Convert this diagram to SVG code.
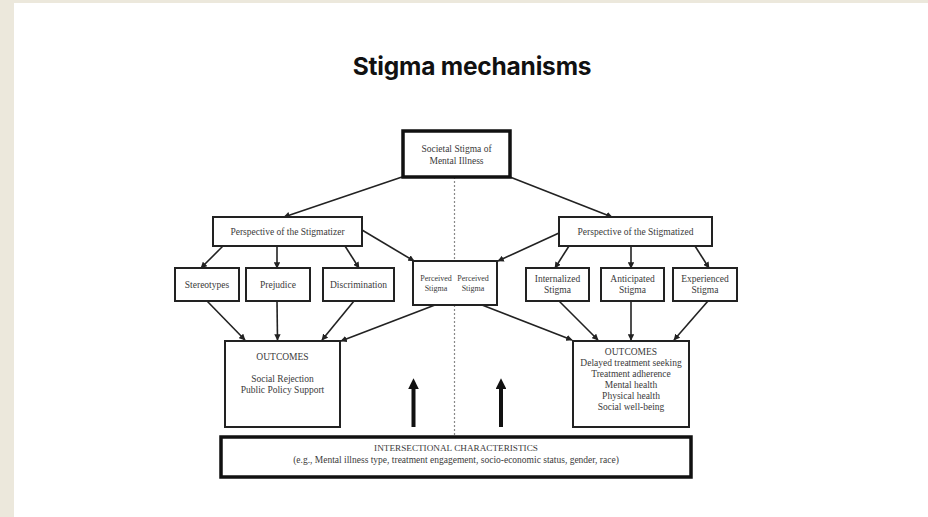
<svg xmlns="http://www.w3.org/2000/svg" width="928" height="517" viewBox="0 0 928 517">
<defs>
<style>
.bg{fill:#ffffff}
.strip{fill:#ece8dc}
.title{font-family:Inter,"Liberation Sans",sans-serif;font-weight:700;font-size:24.5px;letter-spacing:-0.2px;fill:#111;text-anchor:middle}
.box{fill:#fff;stroke:#222;stroke-width:2}
.thick{fill:#fff;stroke:#111;stroke-width:3.5}
.t{font-family:"Liberation Serif","Times New Roman",serif;font-size:9.5px;fill:#3a3a3a;text-anchor:middle}
.ts{font-family:"Liberation Serif","Times New Roman",serif;font-size:8px;fill:#3a3a3a;text-anchor:middle}
.c{fill:none;stroke:#222;stroke-width:1.6}
.dot{fill:none;stroke:#888;stroke-width:1.2;stroke-dasharray:2 2}
.big{fill:none;stroke:#111;stroke-width:4}
</style>
<marker id="ah" viewBox="0 0 10 10" refX="9" refY="5" markerWidth="4" markerHeight="4" orient="auto">
<path d="M0,0 L10,5 L0,10 z" fill="#222"/>
</marker>
<marker id="bah" viewBox="0 0 10 10" refX="2" refY="5" markerWidth="2.7" markerHeight="2.7" orient="auto">
<path d="M0,0 L10,5 L0,10 z" fill="#111"/>
</marker>
</defs>
<rect class="bg" x="0" y="0" width="928" height="517"/>
<rect class="strip" x="0" y="0" width="14" height="517"/>
<rect class="strip" x="0" y="0" width="928" height="3"/>
<text class="title" x="472" y="75">Stigma mechanisms</text>

<g id="connectors">
<line class="dot" x1="454.5" y1="177" x2="454.5" y2="436"/>
<line class="c" x1="402" y1="177" x2="284" y2="217" marker-end="url(#ah)"/>
<line class="c" x1="510" y1="177" x2="612" y2="217" marker-end="url(#ah)"/>
<line class="c" x1="223" y1="246" x2="201" y2="268" marker-end="url(#ah)"/>
<line class="c" x1="277" y1="246" x2="277" y2="268" marker-end="url(#ah)"/>
<line class="c" x1="345" y1="246" x2="359" y2="268" marker-end="url(#ah)"/>
<line class="c" x1="362" y1="230" x2="414" y2="261" marker-end="url(#ah)"/>
<line class="c" x1="569" y1="246" x2="555" y2="268" marker-end="url(#ah)"/>
<line class="c" x1="631" y1="246" x2="631" y2="268" marker-end="url(#ah)"/>
<line class="c" x1="695" y1="246" x2="709" y2="268" marker-end="url(#ah)"/>
<line class="c" x1="559" y1="233" x2="498" y2="261" marker-end="url(#ah)"/>
<line class="c" x1="207" y1="301" x2="245" y2="340" marker-end="url(#ah)"/>
<line class="c" x1="277" y1="301" x2="277.5" y2="340" marker-end="url(#ah)"/>
<line class="c" x1="354" y1="301" x2="322" y2="340" marker-end="url(#ah)"/>
<line class="c" x1="435" y1="305" x2="341" y2="341" marker-end="url(#ah)"/>
<line class="c" x1="559" y1="301" x2="598" y2="340" marker-end="url(#ah)"/>
<line class="c" x1="631" y1="301" x2="631" y2="340" marker-end="url(#ah)"/>
<line class="c" x1="708" y1="301" x2="674" y2="340" marker-end="url(#ah)"/>
<line class="c" x1="482" y1="305" x2="572" y2="340" marker-end="url(#ah)"/>
<line class="big" x1="413.5" y1="427" x2="413.5" y2="387" marker-end="url(#bah)"/>
<line class="big" x1="501" y1="427" x2="501" y2="387" marker-end="url(#bah)"/>
</g>

<g id="societal">
<rect class="thick" x="403" y="131" width="107" height="46"/>
<text class="t" x="456.5" y="152">Societal Stigma of</text>
<text class="t" x="456.5" y="164">Mental Illness</text>
</g>
<g id="stigmatizer">
<rect class="box" x="213" y="217" width="149" height="29"/>
<text class="t" x="287.5" y="235">Perspective of the Stigmatizer</text>
</g>
<g id="stigmatized">
<rect class="box" x="559" y="217" width="153" height="29"/>
<text class="t" x="635.5" y="235">Perspective of the Stigmatized</text>
</g>
<g id="stereotypes">
<rect class="box" x="175" y="268" width="64" height="33"/>
<text class="t" x="207" y="288">Stereotypes</text>
</g>
<g id="prejudice">
<rect class="box" x="246" y="268" width="64" height="33"/>
<text class="t" x="278" y="288">Prejudice</text>
</g>
<g id="discrimination">
<rect class="box" x="323" y="268" width="71" height="33"/>
<text class="t" x="358.5" y="288">Discrimination</text>
</g>
<g id="perceived">
<rect class="box" x="413" y="261" width="84" height="44"/>
<text class="ts" x="436" y="281">Perceived</text>
<text class="ts" x="436" y="291">Stigma</text>
<text class="ts" x="473" y="281">Perceived</text>
<text class="ts" x="473" y="291">Stigma</text>
</g>
<g id="internalized">
<rect class="box" x="526" y="268" width="63" height="33"/>
<text class="t" x="557.5" y="282">Internalized</text>
<text class="t" x="557.5" y="293">Stigma</text>
</g>
<g id="anticipated">
<rect class="box" x="601" y="268" width="63" height="33"/>
<text class="t" x="632.5" y="282">Anticipated</text>
<text class="t" x="632.5" y="293">Stigma</text>
</g>
<g id="experienced">
<rect class="box" x="673" y="268" width="64" height="33"/>
<text class="t" x="705" y="282">Experienced</text>
<text class="t" x="705" y="293">Stigma</text>
</g>
<g id="outcomes-left">
<rect class="box" x="225" y="341" width="115" height="86"/>
<text class="t" x="282.5" y="360">OUTCOMES</text>
<text class="t" x="282.5" y="382">Social Rejection</text>
<text class="t" x="282.5" y="393">Public Policy Support</text>
</g>
<g id="outcomes-right">
<rect class="box" x="573" y="341" width="116" height="86"/>
<text class="t" x="631" y="355">OUTCOMES</text>
<text class="t" x="631" y="366">Delayed treatment seeking</text>
<text class="t" x="631" y="377">Treatment adherence</text>
<text class="t" x="631" y="388">Mental health</text>
<text class="t" x="631" y="399">Physical health</text>
<text class="t" x="631" y="410">Social well-being</text>
</g>
<g id="intersectional">
<rect class="thick" x="221" y="437" width="470" height="40"/>
<text class="t" x="456" y="451" style="font-size:9.2px">INTERSECTIONAL CHARACTERISTICS</text>
<text class="t" x="456" y="463">(e.g., Mental illness type, treatment engagement, socio-economic status, gender, race)</text>
</g>
</svg>
